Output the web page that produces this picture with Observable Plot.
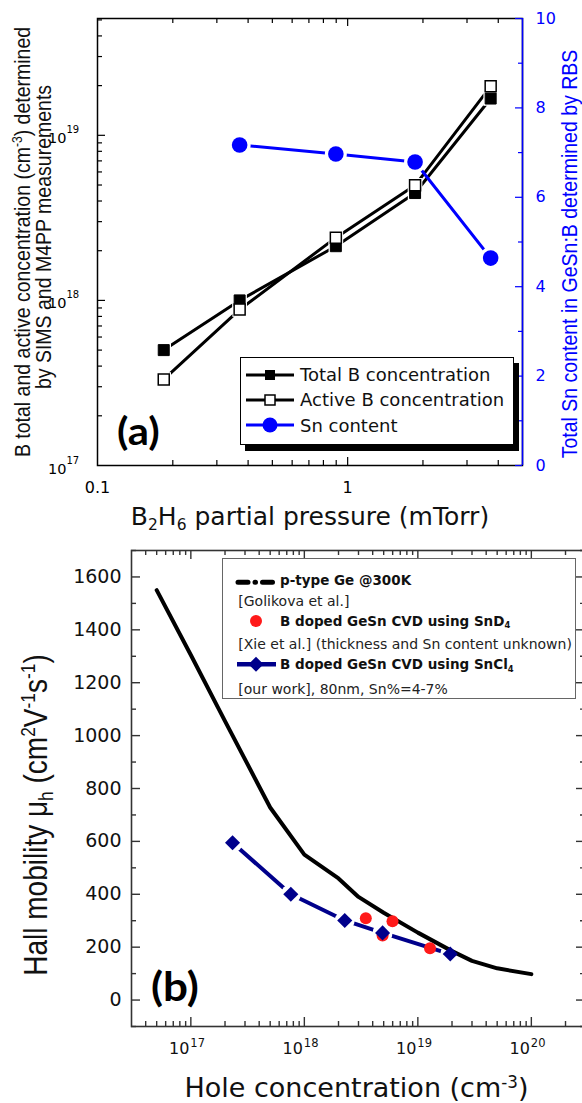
<!DOCTYPE html>
<html><head><meta charset="utf-8">
<script src="https://cdn.jsdelivr.net/npm/d3@7"></script>
<script src="https://cdn.jsdelivr.net/npm/@observablehq/plot@0.6"></script>
<style>
html,body{margin:0;padding:0;background:#fff;}
#root{position:relative;width:582px;height:1103px;overflow:hidden;background:#fff;}
#root sup{font-size:.62em;vertical-align:baseline;position:relative;top:-.55em;}
#root sub{font-size:.62em;vertical-align:baseline;position:relative;top:.3em;}
</style></head><body><div id="root"></div>
<script>
// ---------- Panel (a) data ----------
const pressure = [0.184, 0.37, 0.897, 1.86, 3.73];            // B2H6 partial pressure (mTorr)
const totalB   = [5.0e17, 1.0e18, 2.13e18, 4.47e18, 1.67e19]; // cm^-3
const activeB  = [3.32e17, 8.8e17, 2.4e18, 4.98e18, 1.98e19]; // cm^-3
const snPressure = [0.37, 0.897, 1.86, 3.73];
const snContent  = [7.17, 6.97, 6.79, 4.64];                  // %
// ---------- Panel (b) data ----------
const golikovaP  = [5e16, 1e17, 2e17, 5e17, 1e18, 2e18, 3e18, 5e18, 1e19, 2e19, 3e19, 5e19, 1e20];
const golikovaMu = [1550, 1305, 1055, 728, 550, 460, 390, 330, 255, 185, 148, 120, 98];
const xieP  = [3.48e18, 5.98e18, 4.89e18, 1.28e19];
const xieMu = [309, 298, 244, 196];
const ourP  = [2.33e17, 7.6e17, 2.27e18, 4.89e18, 1.93e19];
const ourMu = [595, 400, 301, 254, 174];
// ---------- tick labels ----------
const aXTickLabels = [0.1, 1];
const aYExponents  = [17, 18, 19];
const aSnTicks     = [0, 2, 4, 6, 8, 10];
const aSnMinor     = [1, 3, 5, 7, 9];
const bYTicks      = [0, 200, 400, 600, 800, 1000, 1200, 1400, 1600];
const bYMinor      = [-100, 100, 300, 500, 700, 900, 1100, 1300, 1500, 1700];
const bXExponents  = [17, 18, 19, 20];

const BLUE = "#0000ff", NAVY = "#00008b", RED = "#ff1a1a";
const root = document.getElementById("root");

function logMinor(lo, hi) {
  const out = [];
  for (let e = Math.floor(Math.log10(lo)); e <= Math.ceil(Math.log10(hi)); e++)
    for (let m = 2; m <= 9; m++) { const v = m * Math.pow(10, e); if (v > lo * 1.0001 && v < hi * 0.9999) out.push(v); }
  return out;
}
function place(svg, top) {
  svg.style.position = "absolute"; svg.style.left = "0px"; svg.style.top = top + "px";
  root.appendChild(svg);
}
function htext(html, x, base, o = {}) {
  const size = o.size || 16, anchor = o.anchor || "start", sx = o.sx || 1;
  const d = document.createElement("div");
  d.innerHTML = html;
  const tx = anchor === "middle" ? "-50%" : anchor === "end" ? "-100%" : "0";
  const org = anchor === "middle" ? "center" : anchor === "end" ? "right" : "left";
  d.style.cssText = `position:absolute;left:${x}px;top:${base - 0.35 * size}px;font-family:${o.family || "'DejaVu Sans'"};font-size:${size}px;font-weight:${o.weight || "normal"};color:${o.color || "#000"};white-space:nowrap;line-height:1;transform:translate(${tx},-50%) scaleX(${sx});transform-origin:${org} center;`;
  root.appendChild(d);
  return d;
}
function vtext(html, cx, cy, o = {}) {
  const size = o.size || 18;
  const d = document.createElement("div");
  d.innerHTML = html;
  d.style.cssText = `position:absolute;left:${cx}px;top:${cy}px;font-family:'Liberation Sans',Arial,sans-serif;font-size:${size}px;color:${o.color || "#000"};white-space:nowrap;line-height:1;transform:translate(-50%,-50%) rotate(-90deg) scaleY(${o.sy || 1.2});transform-origin:center;`;
  root.appendChild(d);
  return d;
}

// ================= Panel (a) =================
const W = 582;
const A = {left: 97, right: 522, top: 18, bottom: 465, h: 540};
const aPW = A.right - A.left, aPH = A.bottom - A.top;
const aMargins = {width: W, height: A.h, marginLeft: A.left, marginRight: W - A.right, marginTop: A.top, marginBottom: A.h - A.bottom};
const aX = {type: "log", domain: [0.1, 5], axis: null};
const svgStyle = {background: "transparent", fontFamily: "DejaVu Sans", overflow: "visible", maxWidth: "none", color: "#000"};

const totalData  = pressure.map((p, i) => ({p, v: totalB[i]}));
const activeData = pressure.map((p, i) => ({p, v: activeB[i]}));
const snData     = snPressure.map((p, i) => ({p, v: snContent[i]}));
const aXMinor = logMinor(0.1, 5), aYMinor = logMinor(1e17, 5.1e19);

const plotA1 = Plot.plot({
  ...aMargins,
  x: aX,
  y: {type: "log", domain: [1e17, 5.1e19], axis: null},
  style: svgStyle,
  marks: [
    Plot.frame({stroke: "#000", strokeWidth: 1.5}),
    Plot.tickX([1], {x: d => d, insetTop: aPH - 8, stroke: "#000", strokeWidth: 1.2}),
    Plot.tickX([1], {x: d => d, insetBottom: aPH - 8, stroke: "#000", strokeWidth: 1.2}),
    Plot.tickX(aXMinor, {x: d => d, insetTop: aPH - 5, stroke: "#000", strokeWidth: 1.2}),
    Plot.tickX(aXMinor, {x: d => d, insetBottom: aPH - 5, stroke: "#000", strokeWidth: 1.2}),
    Plot.tickY([1e18, 1e19], {y: d => d, insetRight: aPW - 8, stroke: "#000", strokeWidth: 1.2}),
    Plot.tickY(aYMinor, {y: d => d, insetRight: aPW - 5, stroke: "#000", strokeWidth: 1.2}),
    Plot.text(aXTickLabels, {x: d => d, frameAnchor: "bottom", lineAnchor: "bottom", dy: 27, text: d => String(d), fontSize: 16, fill: "#000"}),
    Plot.text(aYExponents, {y: d => Math.pow(10, d), frameAnchor: "left", textAnchor: "end", lineAnchor: "bottom", dx: -31, dy: 8, text: () => "10", fontSize: 14.5, fill: "#000"}),
    Plot.text(aYExponents, {y: d => Math.pow(10, d), frameAnchor: "left", textAnchor: "start", lineAnchor: "bottom", dx: -31, dy: -2, text: d => String(d), fontSize: 10, fill: "#000"}),
    Plot.line(totalData, {x: "p", y: "v", stroke: "#000", strokeWidth: 3}),
    Plot.line(activeData, {x: "p", y: "v", stroke: "#000", strokeWidth: 3}),
    Plot.dot(totalData, {x: "p", y: "v", symbol: "square", r: 8.2, fill: "#fff"}),
    Plot.dot(activeData, {x: "p", y: "v", symbol: "square", r: 8.2, fill: "#fff"}),
    Plot.dot(totalData, {x: "p", y: "v", symbol: "square", r: 6.2, fill: "#000", stroke: "#000", strokeWidth: 1}),
    Plot.dot(activeData, {x: "p", y: "v", symbol: "square", r: 6.2, fill: "#fff", stroke: "#000", strokeWidth: 1.5})
  ]
});
place(plotA1, 0);

const plotA2 = Plot.plot({
  ...aMargins,
  x: aX,
  y: {domain: [0, 10], axis: null},
  style: svgStyle,
  marks: [
    Plot.ruleX([5], {stroke: BLUE, strokeWidth: 1.5}),
    Plot.tickY(aSnTicks, {y: d => d, insetLeft: aPW - 7, stroke: BLUE, strokeWidth: 1.2}),
    Plot.tickY(aSnMinor, {y: d => d, insetLeft: aPW - 4, stroke: BLUE, strokeWidth: 1.2}),
    Plot.text(aSnTicks, {y: d => d, frameAnchor: "right", textAnchor: "start", dx: 13, text: d => String(d), fontSize: 16, fill: BLUE}),
    Plot.line(snData, {x: "p", y: "v", stroke: BLUE, strokeWidth: 3}),
    Plot.dot(snData, {x: "p", y: "v", r: 11, fill: "#fff"}),
    Plot.dot(snData, {x: "p", y: "v", r: 7.8, fill: BLUE})
  ]
});
place(plotA2, 0);

// axis titles (a)
vtext("B total and active concentration (cm<sup>-3</sup>) determined", 23, 242, {size: 19.5, color: "#111", sy: 1.15});
vtext("by SIMS and M4PP measurements", 44, 237, {size: 19.5, color: "#111", sy: 1.15});
vtext("Total Sn content in GeSn:B determined by RBS", 570, 254, {size: 19.5, color: BLUE, sy: 1.12});
htext("B<sub>2</sub>H<sub>6</sub> partial pressure (mTorr)", 310, 525, {size: 25, anchor: "middle", color: "#111"});
htext("(a)", 117, 443, {size: 38, weight: "bold", family: "Lato", sx: 1.1});

// legend (a)
(function () {
  const box = document.createElement("div");
  box.style.cssText = "position:absolute;left:240px;top:357px;width:272px;height:86px;border:1px solid #000;box-shadow:5px 6px 0 #000;background:#fff;";
  root.appendChild(box);
  const sym = document.createElementNS("http://www.w3.org/2000/svg", "svg");
  sym.setAttribute("width", "60"); sym.setAttribute("height", "80");
  sym.style.cssText = "position:absolute;left:240px;top:360px;overflow:visible;";
  sym.innerHTML =
    `<line x1="6" x2="54" y1="15" y2="15" stroke="#000" stroke-width="3"/>` +
    `<rect x="25" y="10" width="10" height="10" fill="#000"/>` +
    `<line x1="6" x2="54" y1="40" y2="40" stroke="#000" stroke-width="3"/>` +
    `<rect x="25" y="35" width="10" height="10" fill="#fff" stroke="#000" stroke-width="1.5"/>` +
    `<line x1="6" x2="54" y1="65" y2="65" stroke="${BLUE}" stroke-width="3"/>` +
    `<circle cx="30" cy="65" r="7.5" fill="${BLUE}"/>`;
  root.appendChild(sym);
  htext("Total B concentration", 300, 381.7, {size: 18, color: "#111"});
  htext("Active B concentration", 300, 406.7, {size: 18, color: "#111"});
  htext("Sn content", 300, 432, {size: 18, color: "#111"});
})();

// ================= Panel (b) =================
const B = {left: 131, right: 585, top: 550, bottom: 1026, y0: 540, h: 563, w: 590};
const bPW = B.right - B.left, bPH = B.bottom - B.top;
const golData = golikovaP.map((p, i) => ({p, v: golikovaMu[i]}));
const xieData = xieP.map((p, i) => ({p, v: xieMu[i]}));
const ourData = ourP.map((p, i) => ({p, v: ourMu[i]}));
const bXMajor = bXExponents.map(e => Math.pow(10, e));
const bXMinor = logMinor(3e16, 3e20);
const FR = "#333";

const plotB = Plot.plot({
  width: B.w, height: B.h,
  marginLeft: B.left, marginRight: B.w - B.right, marginTop: B.top - B.y0, marginBottom: B.y0 + B.h - B.bottom,
  x: {type: "log", domain: [3e16, 3e20], axis: null},
  y: {domain: [-100, 1700], axis: null},
  style: svgStyle,
  marks: [
    Plot.frame({stroke: FR, strokeWidth: 1.6}),
    Plot.tickX(bXMajor, {x: d => d, insetTop: bPH - 9, stroke: FR, strokeWidth: 1.4}),
    Plot.tickX(bXMajor, {x: d => d, insetBottom: bPH - 9, stroke: FR, strokeWidth: 1.4}),
    Plot.tickX(bXMinor, {x: d => d, insetTop: bPH - 5, stroke: FR, strokeWidth: 1.4}),
    Plot.tickX(bXMinor, {x: d => d, insetBottom: bPH - 5, stroke: FR, strokeWidth: 1.4}),
    Plot.tickY(bYTicks, {y: d => d, insetRight: bPW - 9, stroke: FR, strokeWidth: 1.4}),
    Plot.tickY(bYMinor, {y: d => d, insetRight: bPW - 5, stroke: FR, strokeWidth: 1.4}),
    Plot.tickY(bYTicks, {y: d => d, insetLeft: bPW - 9, stroke: FR, strokeWidth: 1.4}),
    Plot.tickY(bYMinor, {y: d => d, insetLeft: bPW - 5, stroke: FR, strokeWidth: 1.4}),
    Plot.text(bYTicks, {y: d => d, frameAnchor: "left", textAnchor: "end", lineAnchor: "middle", dx: -10, text: d => String(d), fontSize: 19, fill: "#111"}),
    Plot.text(bXMajor, {x: d => d, frameAnchor: "bottom", textAnchor: "end", lineAnchor: "bottom", dx: -1.5, dy: 27, text: () => "10", fontSize: 16, fill: "#111"}),
    Plot.text(bXExponents, {x: d => Math.pow(10, d), frameAnchor: "bottom", textAnchor: "start", lineAnchor: "bottom", dx: -0.5, dy: 20.5, text: d => String(d), fontSize: 11.5, fill: "#111"}),
    Plot.line(ourData, {x: "p", y: "v", stroke: NAVY, strokeWidth: 4}),
    Plot.dot(ourData, {x: "p", y: "v", r: 10, fill: "#fff"}),
    Plot.line(golData, {x: "p", y: "v", stroke: "#000", strokeWidth: 4, strokeLinejoin: "round"}),
    Plot.dot(xieData, {x: "p", y: "v", r: 6, fill: RED}),
    Plot.dot(ourData, {x: "p", y: "v", symbol: "diamond2", r: 6.8, fill: NAVY})
  ]
});
place(plotB, B.y0);

vtext("Hall mobility μ<sub>h</sub> (cm<sup>2</sup>V<sup>-1</sup>s<sup>-1</sup>)", 36, 815, {size: 28, color: "#111", sy: 1.2});
htext("Hole concentration (cm<sup>-3</sup>)", 356.5, 1096.7, {size: 27, anchor: "middle", color: "#111"});
htext("(b)", 151, 1000, {size: 40, weight: "bold", family: "Lato", sx: 1.1});

// legend (b)
(function () {
  const box = document.createElement("div");
  box.style.cssText = "position:absolute;left:222px;top:558px;width:352px;height:139px;border:1px solid #666;background:#fff;";
  root.appendChild(box);
  const sym = document.createElementNS("http://www.w3.org/2000/svg", "svg");
  sym.setAttribute("width", "50"); sym.setAttribute("height", "100");
  sym.style.cssText = "position:absolute;left:230px;top:570px;overflow:visible;";
  sym.innerHTML =
    `<line x1="8" x2="47" y1="12.3" y2="12.3" stroke="#000" stroke-width="5" stroke-linecap="round" stroke-dasharray="10,7,0.5,7"/>` +
    `<circle cx="26" cy="51" r="6" fill="${RED}"/>` +
    `<line x1="7" x2="46" y1="94.3" y2="94.3" stroke="${NAVY}" stroke-width="4.5"/>` +
    `<path d="M26,86.8 L33.5,94.3 L26,101.8 L18.5,94.3 Z" fill="${NAVY}"/>`;
  root.appendChild(sym);
  htext("p-type Ge @300K", 280, 585.7, {size: 13.5, weight: "bold", color: "#111"});
  htext("[Golikova et al.]", 238.3, 605.5, {size: 14, color: "#222"});
  htext("B doped GeSn CVD using SnD<sub>4</sub>", 280, 626.7, {size: 13.5, weight: "bold", color: "#111"});
  htext("[Xie et al.] (thickness and Sn content unknown)", 238.3, 648.5, {size: 14, color: "#222"});
  htext("B doped GeSn CVD using SnCl<sub>4</sub>", 280, 670, {size: 13.5, weight: "bold", color: "#111"});
  htext("[our work], 80nm, Sn%=4-7%", 238.3, 694, {size: 14, color: "#222"});
})();
</script></body></html>
